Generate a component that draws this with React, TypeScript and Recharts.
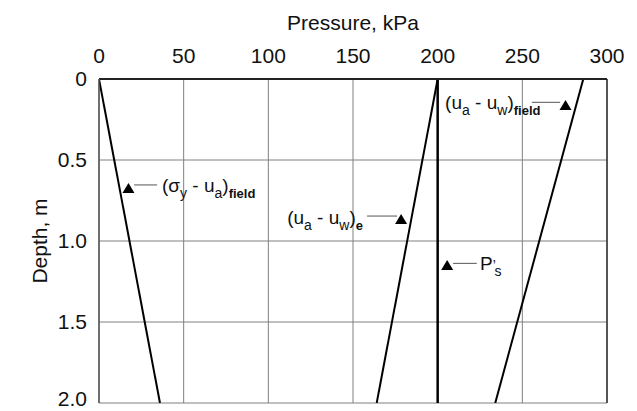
import React from 'react';
import { LineChart, Line, XAxis, YAxis, CartesianGrid, ReferenceLine, ReferenceDot } from 'recharts';

// depth (m) at the two ends of every profile
const depths = [0, 2];
const sigmaField = [0, 36];
const suctionE = [200, 164];
const psPrime = [200, 200];
const suctionField = [286, 234];

const xTicks = [0, 50, 100, 150, 200, 250, 300];
const yTicks = [0, 0.5, 1, 1.5, 2];
const yTickLabels = ['0', '0.5', '1.0', '1.5', '2.0'];

const toRows = (vals: number[]) => depths.map((d, i) => ({ p: vals[i], d }));

type Part = { t: string; sub?: boolean; bold?: boolean; sup?: boolean };

const annotations: {
  key: string;
  parts: Part[];
  anchor: 'start' | 'end';
  text: [number, number];
  lead: [number, number, number];
  tri: [number, number];
}[] = [
  {
    key: 'sigma',
    parts: [{ t: '(σ' }, { t: 'y', sub: true }, { t: ' - u' }, { t: 'a', sub: true }, { t: ')' }, { t: 'field', sub: true, bold: true }],
    anchor: 'start',
    text: [37.2, 0.66],
    lead: [20.7, 34.3, 0.654],
    tri: [17.4, 0.673],
  },
  {
    key: 'e',
    parts: [{ t: '(u' }, { t: 'a', sub: true }, { t: ' - u' }, { t: 'w', sub: true }, { t: ')' }, { t: 'e', sub: true, bold: true }],
    anchor: 'end',
    text: [155.9, 0.858],
    lead: [158.3, 176, 0.846],
    tri: [178.4, 0.864],
  },
  {
    key: 'ps',
    parts: [{ t: 'P' }, { t: '\u2019', sup: true }, { t: 's', sub: true }],
    anchor: 'start',
    text: [225, 1.142],
    lead: [209.1, 223.1, 1.138],
    tri: [205.6, 1.148],
  },
  {
    key: 'field',
    parts: [{ t: '(u' }, { t: 'a', sub: true }, { t: ' - u' }, { t: 'w', sub: true }, { t: ')' }, { t: 'field', sub: true, bold: true }],
    anchor: 'start',
    text: [204.4, 0.148],
    lead: [255.6, 272.3, 0.144],
    tri: [275.5, 0.16],
  },
];

const FONT = '"Liberation Sans", Arial, sans-serif';

const AnnoText = ({ cx, cy, parts, anchor }: any) => {
  let shift = 0;
  return (
    <text x={cx} y={cy + 6} textAnchor={anchor} fontFamily={FONT} fontSize={19} fill="#111">
      {parts.map((p: Part, i: number) => {
        const target = p.sub ? 6 : 0;
        const dy = target - shift;
        shift = target;
        if (p.sup) {
          return (
            <tspan key={i} dx={0} dy={dy} fontSize={14}>
              {p.t}
            </tspan>
          );
        }
        return (
          <tspan
            key={i}
            dy={dy}
            dx={p.sub && p.t === 's' ? -1 : 0}
            fontSize={p.sub ? (p.bold ? 13 : 14) : 19}
            fontWeight={p.bold ? 'bold' : 'normal'}
          >
            {p.t}
          </tspan>
        );
      })}
    </text>
  );
};

const Triangle = ({ cx, cy }: any) => (
  <polygon points={`${cx - 6},${cy + 5} ${cx + 6},${cy + 5} ${cx},${cy - 5}`} fill="#000" />
);

const lineStyle = { stroke: '#000', strokeWidth: 2 };

export default function App() {
  return (
    <div style={{ position: 'absolute', left: 0, top: 0, background: '#fff' }}>
      <LineChart width={637} height={411} margin={{ top: 0, right: 30, bottom: 8, left: 0 }}>
        <CartesianGrid stroke="#808080" strokeWidth={1} />
        <XAxis
          dataKey="p"
          type="number"
          orientation="top"
          domain={[0, 300]}
          ticks={xTicks}
          allowDataOverflow
          height={79}
          tickSize={0}
          tickMargin={16}
          axisLine={{ stroke: '#222', strokeWidth: 2 }}
          tick={{ fill: '#111', fontSize: 21, fontFamily: FONT }}
          label={{ value: 'Pressure, kPa', position: 'insideTop', offset: 15, fill: '#111', fontSize: 21, fontFamily: FONT }}
        />
        <YAxis
          type="number"
          reversed
          domain={[0, 2]}
          ticks={yTicks}
          allowDataOverflow
          width={99}
          tickSize={0}
          tickMargin={12}
          tickFormatter={(v: number) => yTickLabels[yTicks.indexOf(v)]}
          axisLine={{ stroke: '#555', strokeWidth: 1.5 }}
          tick={{ fill: '#111', fontSize: 21, fontFamily: FONT }}
          label={{ value: 'Depth, m', angle: -90, position: 'center', dx: -10, fill: '#111', fontSize: 21, fontFamily: FONT }}
        />
        <ReferenceLine x={300} stroke="#333" strokeWidth={1.5} />
        <Line data={toRows(sigmaField)} dataKey="d" {...lineStyle} dot={false} isAnimationActive={false} />
        <Line data={toRows(suctionE)} dataKey="d" {...lineStyle} dot={false} isAnimationActive={false} />
        <Line data={toRows(psPrime)} dataKey="d" stroke="#000" strokeWidth={2.5} dot={false} isAnimationActive={false} />
        <Line data={toRows(suctionField)} dataKey="d" {...lineStyle} dot={false} isAnimationActive={false} />
        {annotations.map((a) => (
          <ReferenceLine
            key={`l-${a.key}`}
            segment={[{ x: a.lead[0], y: a.lead[2] }, { x: a.lead[1], y: a.lead[2] }]}
            stroke="#555"
            strokeWidth={1}
          />
        ))}
        {annotations.map((a) => (
          <ReferenceDot key={`t-${a.key}`} x={a.tri[0]} y={a.tri[1]} r={6} shape={(p: any) => <Triangle {...p} />} />
        ))}
        {annotations.map((a) => (
          <ReferenceDot
            key={`x-${a.key}`}
            x={a.text[0]}
            y={a.text[1]}
            r={1}
            shape={(p: any) => <AnnoText {...p} parts={a.parts} anchor={a.anchor} />}
          />
        ))}
      </LineChart>
    </div>
  );
}
